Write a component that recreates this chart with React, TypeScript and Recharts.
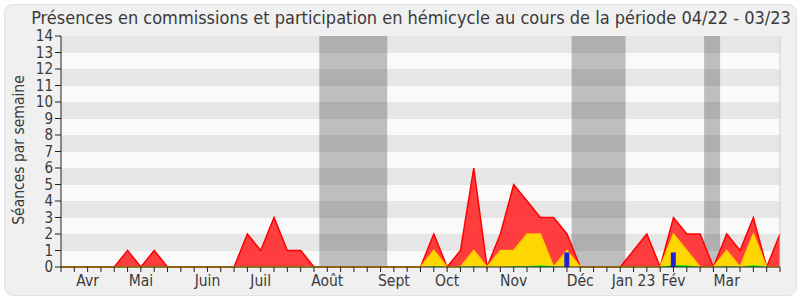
import { ComposedChart, Area, Bar, XAxis, YAxis, CartesianGrid, ReferenceArea, ReferenceLine } from "recharts";

// one value per week, 04/22 -> 03/23
const total = [0, 0, 0, 0, 0, 1, 0, 1, 0, 0, 0, 0, 0, 0, 2, 1, 3, 1, 1, 0, 0, 0, 0, 0, 0, 0, 0, 0, 2, 0, 1, 6, 0, 2, 5, 4, 3, 3, 2, 0, 0, 0, 0, 1, 2, 0, 3, 2, 2, 0, 2, 1, 3, 0, 2];
const hemicycle = [0, 0, 0, 0, 0, 0, 0, 0, 0, 0, 0, 0, 0, 0, 0, 0, 0, 0, 0, 0, 0, 0, 0, 0, 0, 0, 0, 0, 1, 0, 0, 1, 0, 1, 1, 2, 2, 0, 1, 0, 0, 0, 0, 0, 0, 0, 2, 1, 0, 0, 1, 0, 2, 0, 0];
const interventions = [0, 0, 0, 0, 0, 0, 0, 0, 0, 0, 0, 0, 0, 0, 0, 0, 0, 0, 0, 0, 0, 0, 0, 0, 0, 0, 0, 0, 0.05, 0, 0, 0.05, 0, 0, 0.05, 0.05, 0.1, 0.05, 0, 0, 0, 0, 0, 0, 0, 0, 0.12, 0.1, 0, 0, 0.05, 0, 0.12, 0, 0];
const questions = [0, 0, 0, 0, 0, 0, 0, 0, 0, 0, 0, 0, 0, 0, 0, 0, 0, 0, 0, 0, 0, 0, 0, 0, 0, 0, 0, 0, 0, 0, 0, 0, 0, 0, 0, 0, 0, 0, 0.88, 0, 0, 0, 0, 0, 0, 0, 0.88, 0, 0, 0, 0, 0, 0, 0, 0];

const monthLabels: Record<number, string> = {
  2: "Avr", 6: "Mai", 11: "Juin", 15: "Juil", 20: "Août", 25: "Sept",
  29: "Oct", 34: "Nov", 39: "Déc", 43: "Jan 23", 46: "Fév", 50: "Mar",
};

// vacances parlementaires (en semaines)
const vacances = [
  [19.4, 24.5],
  [38.35, 42.4],
  [48.3, 49.5],
];

const yTicks = [0, 1, 2, 3, 4, 5, 6, 7, 8, 9, 10, 11, 12, 13, 14];

const FONT = "'DejaVu Sans Condensed', 'DejaVu Sans', sans-serif";
const TXT = "#3a3a3a";

const data = total.map((v, i) => ({
  week: i,
  total: v,
  hemicycle: hemicycle[i],
  interventions: interventions[i],
  questions: questions[i],
}));
const weekTicks = data.map((d) => d.week);

function MonthTick(props: any) {
  const { x, y, payload } = props;
  const label = monthLabels[payload.value];
  if (!label) return null;
  return (
    <text x={x} y={y + 12} textAnchor="middle" fontSize={15.5} fill={TXT} fontFamily={FONT}>
      {label}
    </text>
  );
}

export default function App() {
  return (
    <div style={{ position: "absolute", left: 0, top: 0, width: 800, height: 300, background: "#fff" }}>
      <div
        style={{
          position: "absolute", left: 4, top: 4, width: 791, height: 290,
          background: "#f0f0f0", border: "1px solid #e2e2e2", borderRadius: 9,
        }}
      />
      <div
        style={{
          position: "absolute", left: 0, top: 7, width: 822, textAlign: "center",
          fontFamily: FONT, fontSize: 18, color: TXT, whiteSpace: "nowrap",
        }}
      >
        Présences en commissions et participation en hémicycle au cours de la période 04/22 - 03/23
      </div>
      <div
        style={{
          position: "absolute", left: 19, top: 150, transform: "translate(-50%, -50%) rotate(-90deg)",
          fontFamily: FONT, fontSize: 15.5, color: TXT, whiteSpace: "nowrap",
        }}
      >
        Séances par semaine
      </div>
      <div style={{ position: "absolute", left: 0, top: 0 }}>
        <ComposedChart width={800} height={300} data={data} margin={{ top: 35, right: 20, bottom: 3, left: 0 }}>
          <CartesianGrid
            horizontal
            vertical={false}
            stroke="transparent"
            horizontalFill={["#e6e6e6", "#fafafa"]}
            fillOpacity={1}
          />
          <XAxis
            xAxisId="top"
            orientation="top"
            dataKey="week"
            type="number"
            domain={[0, 54]}
            ticks={weekTicks}
            interval={0}
            tick={false}
            axisLine={false}
            tickLine={{ stroke: "#222" }}
            tickSize={2}
            height={1}
          />
          <XAxis
            dataKey="week"
            type="number"
            domain={[0, 54]}
            ticks={weekTicks}
            interval={0}
            tick={<MonthTick />}
            axisLine={{ stroke: "#222" }}
            tickLine={{ stroke: "#222" }}
            tickSize={5}
            height={30}
          />
          <YAxis
            domain={[0, 14]}
            ticks={yTicks}
            interval={0}
            width={61}
            tickSize={6}
            axisLine={{ stroke: "#222" }}
            tickLine={{ stroke: "#222" }}
            tick={{ fontSize: 15, fill: TXT, fontFamily: FONT }}
          />
          {vacances.map(([a, b], i) => (
            <ReferenceArea key={i} x1={a} x2={b} y1={0} y2={14} fill="#000" fillOpacity={0.24} stroke="none" />
          ))}
          <ReferenceLine x={54} stroke="#cfcfcf" />
          <Area
            type="linear"
            dataKey="total"
            fill="#ff2a2a"
            fillOpacity={0.9}
            stroke="#ff0000"
            strokeWidth={1.5}
            isAnimationActive={false}
          />
          <Area
            type="linear"
            dataKey="hemicycle"
            fill="#ffd700"
            fillOpacity={1}
            stroke="#ffcc00"
            strokeWidth={1.5}
            isAnimationActive={false}
          />
          <Area
            type="linear"
            dataKey="interventions"
            fill="#00ee00"
            fillOpacity={1}
            stroke="none"
            isAnimationActive={false}
          />
          <Bar dataKey="questions" fill="#2020dd" barSize={5} isAnimationActive={false} />
        </ComposedChart>
      </div>
    </div>
  );
}
